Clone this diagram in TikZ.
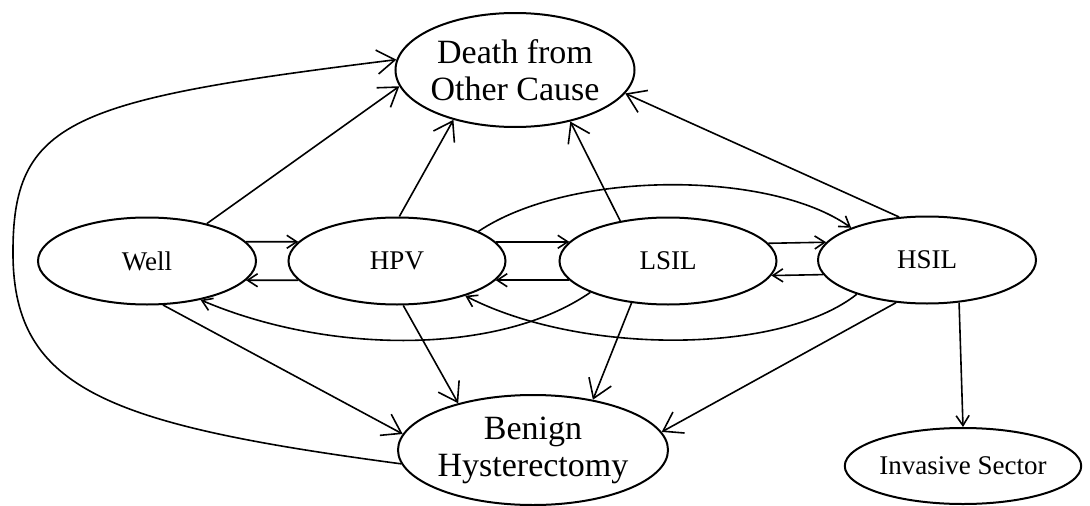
\documentclass[tikz,border=0pt]{standalone}
\usepackage{fontspec}
\setmainfont{Liberation Serif}
\usetikzlibrary{shapes.geometric,arrows.meta}
\begin{document}
\begin{tikzpicture}[x=1pt,y=-1pt,
  st/.style={draw, ellipse, line width=2pt, inner sep=0pt, align=center},
  bigtxt/.style={font=\fontsize{34}{37}\selectfont},
  smalltxt/.style={font=\fontsize{27}{32}\selectfont},
  conn/.style={line width=1.6pt},
  bt/.style={conn, -{Straight Barb[length=18pt,width=24pt]}},
  sa/.style={conn, -{Straight Barb[length=10pt,width=13pt]}}]
\useasboundingbox (0,0) rectangle (1090,506);

\node[st, bigtxt, minimum width=223pt, minimum height=114pt] (death) at (515,70) {Death from\\Other Cause};
\node[st, smalltxt, minimum width=218pt, minimum height=87pt] (well) at (147,261) {Well};
\node[st, smalltxt, minimum width=217pt, minimum height=87pt] (hpv) at (397,261) {HPV};
\node[st, smalltxt, minimum width=217pt, minimum height=87pt] (lsil) at (668,261) {LSIL};
\node[st, smalltxt, minimum width=218pt, minimum height=87pt] (hsil) at (927,260) {HSIL};
\node[st, bigtxt, minimum width=270pt, minimum height=110pt] (benign) at (533,450) {Benign\\Hysterectomy};
\node[st, smalltxt, minimum width=210pt, minimum height=76pt] (inv) at (963,466) {Invasive Sector};

% to death
\draw[bt] (well.32) -- (death.188);
\draw[bt] (hpv.87) -- (death.219);
\draw[bt] (lsil.140) -- (death.317);
\draw[bt] (hsil.123) -- (death.348);
\draw[bt] (benign.186) .. controls (110,425) and (14,390) .. (13,255)
                       .. controls (12,120) and (70,100) .. (death.175);

% horizontal pairs
\draw[sa] (well.11) -- (hpv.169);
\draw[sa] (hpv.191) -- (well.349);
\draw[sa] (hpv.11) -- (lsil.169);
\draw[sa] (lsil.191) -- (hpv.349);
\draw[sa] (lsil.10) -- (hsil.170);
\draw[sa] (hsil.188) -- (lsil.352);

% curves
\draw[sa] (hpv.20) .. controls (570,170) and (770,170) .. (hsil.157);
\draw[sa] (lsil.202) .. controls (500,355) and (330,355) .. (well.324);
\draw[sa] (hsil.206) .. controls (780,355) and (580,355) .. (hpv.333);

% to benign
\draw[bt] (well.290) -- (benign.173);
\draw[bt] (hpv.278) -- (benign.148);
\draw[bt] (lsil.229) -- (benign.40);
\draw[bt] (hsil.234) -- (benign.8);

% to invasive
\draw[sa] (hsil.307) -- (inv.north);
\end{tikzpicture}
\end{document}
